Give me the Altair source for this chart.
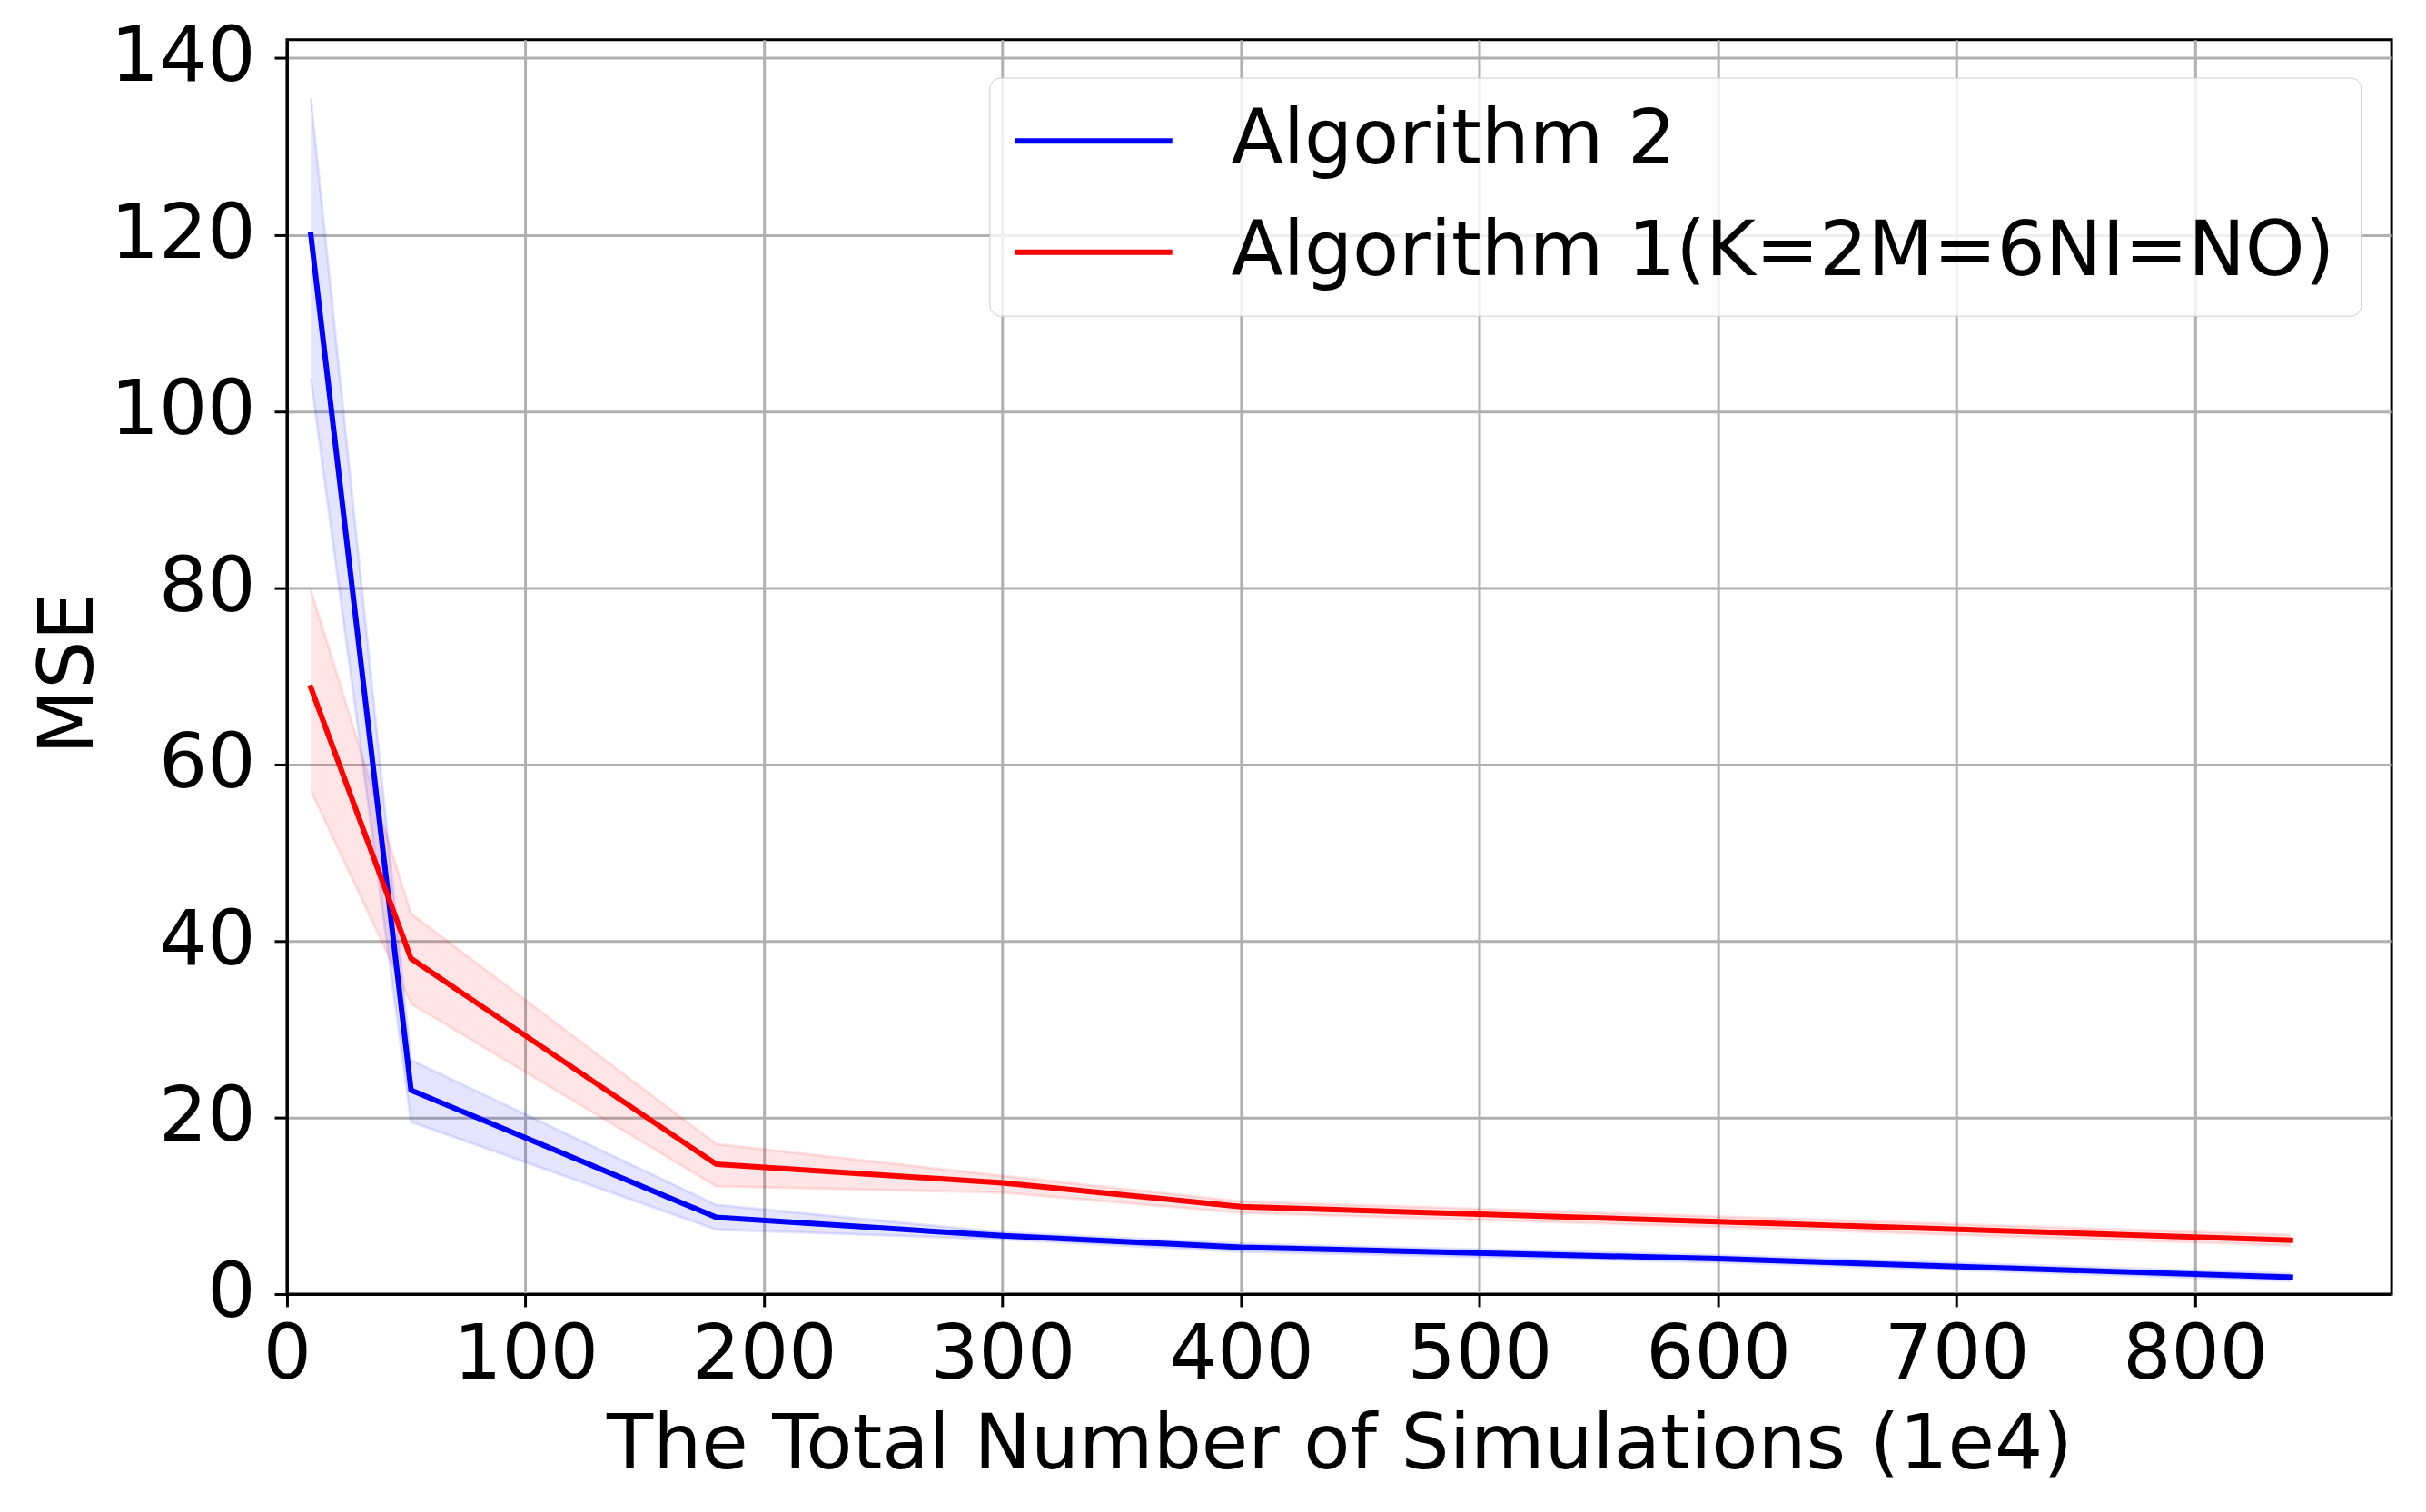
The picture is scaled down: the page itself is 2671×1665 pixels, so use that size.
import altair as alt
import pandas as pd

x_vals = [10, 52, 180, 300, 400, 600, 840]

series_names = ["Algorithm 2", "Algorithm 1(K=2M=6NI=NO)"]
series_colors = ["#0000ff", "#ff0000"]

blue_mean = [120.0, 23.1, 8.7, 6.6, 5.3, 4.0, 1.9]
blue_low = [103.7, 19.5, 7.3, 6.2, 4.8, 3.6, 1.5]
blue_high = [135.5, 26.5, 10.1, 7.0, 5.7, 4.4, 2.3]

red_mean = [68.7, 38.0, 14.7, 12.6, 9.9, 8.2, 6.1]
red_low = [57.0, 32.9, 12.2, 11.5, 9.2, 7.6, 5.5]
red_high = [79.8, 43.1, 17.0, 13.4, 10.5, 8.8, 6.7]

x_ticks = [0, 100, 200, 300, 400, 500, 600, 700, 800]
y_ticks = [0, 20, 40, 60, 80, 100, 120, 140]

rows = []
for name, m, lo, hi in [
    (series_names[0], blue_mean, blue_low, blue_high),
    (series_names[1], red_mean, red_low, red_high),
]:
    for i, x in enumerate(x_vals):
        rows.append({"x": x, "mse": m[i], "lo": lo[i], "hi": hi[i], "series": name, "order": i})
df = pd.DataFrame(rows)

W, H = 2325, 1386
FS = 84
FONT = "DejaVu Sans"

legend = alt.Legend(
    title=None,
    orient="none",
    legendX=776,
    legendY=42,
    symbolType="M-2.41,0H7.59",
    symbolSize=1211,
    symbolStrokeWidth=6,
    symbolOpacity=1,
    labelFontSize=FS,
    labelFont=FONT,
    labelOffset=155,
    labelColor="black",
    rowPadding=39,
    padding=28,
    cornerRadius=12,
    strokeColor="#cccccc",
    fillColor="rgba(255,255,255,0.8)",
    labelLimit=3000,
)

cscale = alt.Scale(domain=series_names, range=series_colors)
xscale = alt.Scale(domain=[0, 882.4], nice=False, zero=False)
yscale = alt.Scale(domain=[0, 142.1], nice=False, zero=False)

xaxis = alt.Axis(
    values=x_ticks,
    title="The Total Number of Simulations (1e4)",
    titleX=W / 2,
    titleY=192,
    titleBaseline="alphabetic",
    titleAlign="center",
    labelPadding=13,
    labelFlush=False,
)
yaxis = alt.Axis(
    values=y_ticks,
    title="MSE",
    titleX=-215,
    titleY=700,
    titleAngle=270,
    titleBaseline="alphabetic",
    titleAlign="center",
    labelPadding=21,
)

base = alt.Chart(df)

band = base.mark_area(fillOpacity=0.1, strokeOpacity=0.1, strokeWidth=3).encode(
    x=alt.X("x:Q", scale=xscale, axis=xaxis),
    y=alt.Y("lo:Q", scale=yscale, axis=yaxis),
    y2="hi:Q",
    color=alt.Color("series:N", scale=cscale, sort=series_names, legend=legend),
)

band_edge_lo = base.mark_line(strokeWidth=3, opacity=0.1).encode(
    x=alt.X("x:Q", scale=xscale),
    y=alt.Y("lo:Q", scale=yscale),
    color=alt.Color("series:N", scale=cscale, sort=series_names, legend=legend),
    order="order:Q",
)
band_edge_hi = base.mark_line(strokeWidth=3, opacity=0.1).encode(
    x=alt.X("x:Q", scale=xscale),
    y=alt.Y("hi:Q", scale=yscale),
    color=alt.Color("series:N", scale=cscale, sort=series_names, legend=legend),
    order="order:Q",
)

lines = base.mark_line(strokeWidth=6, strokeJoin="round", strokeCap="square").encode(
    x=alt.X("x:Q", scale=xscale),
    y=alt.Y("mse:Q", scale=yscale),
    color=alt.Color("series:N", scale=cscale, sort=series_names, legend=legend),
    order="order:Q",
)

chart = (
    alt.layer(band, band_edge_lo, band_edge_hi, lines)
    .properties(
        width=W,
        height=H,
        autosize=alt.AutoSizeParams(type="none"),
        padding={"left": 309, "top": 33, "right": 30, "bottom": 220},
        background="white",
    )
    .configure_view(stroke="black", strokeWidth=3)
    .configure_axis(
        labelFont=FONT,
        titleFont=FONT,
        labelFontSize=FS,
        titleFontSize=FS,
        titleFontWeight="normal",
        labelColor="black",
        titleColor="black",
        grid=True,
        gridColor="#b0b0b0",
        gridWidth=3,
        domain=True,
        domainColor="black",
        domainWidth=3,
        ticks=True,
        tickColor="black",
        tickSize=14,
        tickWidth=3,
    )
)

chart.save("out.html", embed_options={"renderer": "svg", "actions": False})
